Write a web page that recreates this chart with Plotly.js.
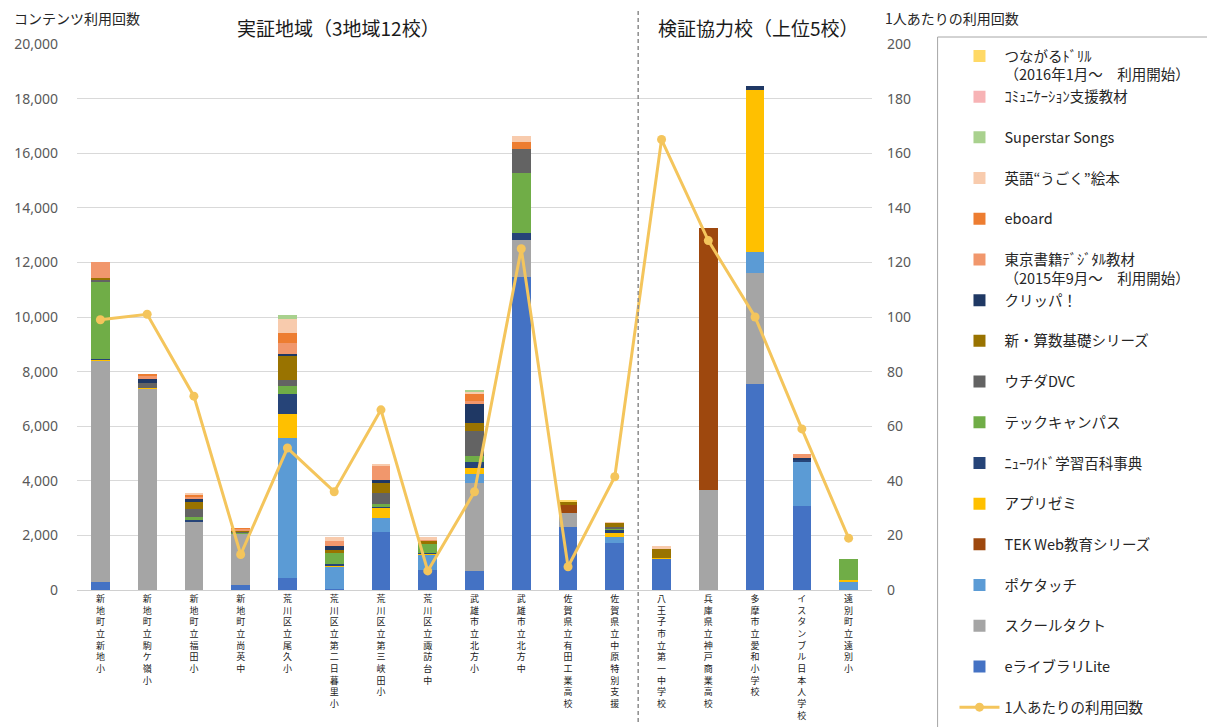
<!DOCTYPE html>
<html>
<head>
<meta charset="utf-8">
<script src="https://cdn.plot.ly/plotly-3.0.1.min.js"></script>
<style>
  html, body { margin: 0; padding: 0; background: #ffffff; }
  #chart { width: 1207px; height: 727px; }
</style>
</head>
<body>
<div id="chart"></div>
<script>
// ---------- categories ----------
const schools = ['新地町立新地小','新地町立駒ケ嶺小','新地町立福田小','新地町立尚英中','荒川区立尾久小','荒川区立第二日暮里小','荒川区立第三峡田小','荒川区立諏訪台中','武雄市立北方小','武雄市立北方中','佐賀県立有田工業高校','佐賀県立中原特別支援','八王子市立第一中学校','兵庫県立神戸商業高校','多摩市立愛和小学校','イスタンブル日本人学校','遠別町立遠別小'];

// ---------- series values (contents usage counts), bottom to top of stack ----------
const eLibraryLite   = [300, 0, 0, 190, 430, 30, 2140, 730, 710, 11480, 2320, 1710, 1120, 0, 7550, 3080, 0];
const schoolTakt     = [8100, 7370, 2500, 1860, 0, 0, 0, 0, 3220, 1340, 490, 0, 0, 3660, 4050, 0, 0];
const pokeTouch      = [0, 0, 0, 0, 5130, 800, 490, 550, 310, 0, 0, 240, 0, 0, 790, 1620, 300];
const tekWeb         = [0, 0, 0, 0, 0, 0, 0, 0, 0, 0, 310, 0, 0, 9590, 0, 0, 0];
const appliZemi      = [30, 30, 0, 0, 890, 60, 360, 40, 220, 0, 0, 120, 60, 0, 5920, 0, 50];
const newWide        = [50, 0, 70, 0, 730, 70, 40, 40, 240, 240, 0, 120, 0, 0, 0, 60, 0];
const techCampus     = [2800, 0, 90, 40, 300, 400, 120, 340, 210, 2200, 0, 60, 0, 0, 0, 0, 770];
const uchidaDVC      = [80, 170, 290, 30, 220, 0, 390, 0, 930, 910, 0, 60, 0, 0, 0, 0, 0];
const sansuKiso      = [80, 0, 260, 40, 880, 100, 390, 90, 270, 0, 110, 130, 340, 0, 0, 0, 0];
const clippa         = [0, 160, 110, 0, 50, 160, 100, 0, 710, 0, 0, 0, 0, 0, 150, 60, 0];
const tokyoShoseki   = [560, 120, 100, 80, 420, 170, 510, 60, 120, 0, 0, 0, 0, 0, 0, 160, 0];
const eboard         = [30, 60, 60, 40, 370, 0, 0, 0, 250, 240, 0, 0, 0, 0, 0, 0, 0];
const eigoEhon       = [0, 0, 60, 0, 490, 150, 70, 100, 80, 210, 0, 60, 80, 0, 0, 0, 0];
const superstarSongs = [0, 0, 0, 0, 180, 0, 0, 0, 60, 0, 0, 0, 0, 0, 0, 0, 0];
const commSupport    = [0, 0, 0, 0, 0, 0, 0, 0, 0, 0, 0, 0, 0, 0, 0, 0, 0];
const tsunagaruDrill = [0, 0, 0, 0, 0, 0, 0, 0, 0, 0, 70, 0, 0, 0, 0, 0, 0];

// ---------- per-person usage (right axis) ----------
const perPerson = [99, 101, 71, 13, 52, 36, 66, 7, 36, 125, 8.5, 41.5, 165, 128, 100, 59, 19];

// ---------- tick labels ----------
const leftTicks = [0, 2000, 4000, 6000, 8000, 10000, 12000, 14000, 16000, 18000, 20000];
const rightTicks = [0, 20, 40, 60, 80, 100, 120, 140, 160, 180, 200];
const verticalLabels = schools.map(s => Array.from(s).join('<br>'));

const seriesDefs = [
  {name: 'eライブラリLite', data: eLibraryLite, color: '#4472C4'},
  {name: 'スクールタクト', data: schoolTakt, color: '#A5A5A5'},
  {name: 'ポケタッチ', data: pokeTouch, color: '#5B9BD5'},
  {name: 'TEK Web教育シリーズ', data: tekWeb, color: '#9E480E'},
  {name: 'アプリゼミ', data: appliZemi, color: '#FFC000'},
  {name: 'ﾆｭｰﾜｲﾄﾞ学習百科事典', data: newWide, color: '#264478'},
  {name: 'テックキャンパス', data: techCampus, color: '#70AD47'},
  {name: 'ウチダDVC', data: uchidaDVC, color: '#636363'},
  {name: '新・算数基礎シリーズ', data: sansuKiso, color: '#997300'},
  {name: 'クリッパ！', data: clippa, color: '#1F3864'},
  {name: '東京書籍ﾃﾞｼﾞﾀﾙ教材<br>（2015年9月～　利用開始）', data: tokyoShoseki, color: '#F1976C', two: true},
  {name: 'eboard', data: eboard, color: '#ED7D31'},
  {name: '英語“うごく”絵本', data: eigoEhon, color: '#F8CBAD'},
  {name: 'Superstar Songs', data: superstarSongs, color: '#A9D18E'},
  {name: 'ｺﾐｭﾆｹｰｼｮﾝ支援教材', data: commSupport, color: '#F7B3B5'},
  {name: 'つながるﾄﾞﾘﾙ<br>（2016年1月～　利用開始）', data: tsunagaruDrill, color: '#FFD966', two: true}
];

const lineColor = '#F4C55C';
const traces = [{
  type: 'scatter', mode: 'lines+markers', name: '1人あたりの利用回数',
  x: schools, y: perPerson, yaxis: 'y2',
  line: {color: lineColor, width: 3},
  marker: {color: lineColor, size: 9}
}];
seriesDefs.forEach(s => {
  traces.push({
    type: 'bar', name: s.two ? s.name : s.name + '<br>&nbsp;',
    x: schools, y: s.data,
    marker: {color: s.color, line: {width: 0}},
    hoverinfo: 'x+y+name'
  });
});

const L = 77, R = 877, T = 44, B = 590;
const px = v => (v - L) / (R - L);
const py = v => (B - v) / (B - T);
const font = 'Noto Sans CJK JP, Noto Sans, sans-serif';

const layout = {
  width: 1207, height: 727,
  margin: {l: L, r: 1207 - R, t: T, b: 727 - B, pad: 0},
  paper_bgcolor: '#ffffff', plot_bgcolor: '#ffffff',
  barmode: 'stack', bargap: 0.6,
  showlegend: true,
  font: {family: font, color: '#404040'},
  xaxis: {
    type: 'category', categoryorder: 'array', categoryarray: schools,
    range: [-0.5, 16.5],
    tickmode: 'array', tickvals: schools, ticktext: verticalLabels,
    tickangle: 0, ticks: '', ticklabelstandoff: 0,
    tickfont: {family: font, size: 9, color: '#1a1a1a'},
    showline: true, linecolor: '#d0d0d0', linewidth: 1,
    showgrid: false, zeroline: false, automargin: false, fixedrange: true
  },
  yaxis: {
    range: [0, 20000], tickmode: 'array', tickvals: leftTicks,
    ticktext: leftTicks.map(v => v.toLocaleString('en-US')),
    tickfont: {family: 'Noto Sans, sans-serif', size: 14, color: '#595959'},
    gridcolor: '#d9d9d9', gridwidth: 1, zeroline: false,
    ticks: '', ticklabelstandoff: 18, automargin: false, fixedrange: true
  },
  yaxis2: {
    overlaying: 'y', side: 'right', range: [0, 200],
    tickmode: 'array', tickvals: rightTicks, ticktext: rightTicks.map(String),
    tickfont: {family: 'Noto Sans, sans-serif', size: 14, color: '#595959'},
    showgrid: false, zeroline: false, ticks: '', ticklabelstandoff: 14,
    automargin: false, fixedrange: true
  },
  legend: {
    x: px(960), xanchor: 'left', y: py(40), yanchor: 'top',
    traceorder: 'reversed', valign: 'top',
    bgcolor: 'rgba(0,0,0,0)', borderwidth: 0,
    font: {family: font, size: 14.5, color: '#262626'},
    itemwidth: 40, maxheight: 700
  },
  shapes: [
    {type: 'line', xref: 'x', yref: 'paper', x0: 11.5, x1: 11.5, y0: py(722), y1: py(10),
     line: {color: '#8c8c8c', width: 1.5, dash: '4px,3px'}},
    {type: 'rect', xref: 'paper', yref: 'paper', x0: px(943), x1: px(1220), y0: py(740), y1: py(37),
     line: {color: '#a6a6a6', width: 1}, fillcolor: 'rgba(0,0,0,0)', layer: 'below'}
  ],
  annotations: [
    {text: 'コンテンツ利用回数', xref: 'paper', yref: 'paper', x: px(12), y: py(18), xanchor: 'left', yanchor: 'middle', showarrow: false, font: {family: font, size: 14, color: '#262626'}},
    {text: '1人あたりの利用回数', xref: 'paper', yref: 'paper', x: px(888), y: py(18), xanchor: 'left', yanchor: 'middle', showarrow: false, font: {family: font, size: 14, color: '#262626'}},
    {text: '実証地域（3地域12校）', xref: 'paper', yref: 'paper', x: px(340), y: py(27), xanchor: 'center', yanchor: 'middle', showarrow: false, font: {family: font, size: 19, color: '#1a1a1a'}},
    {text: '検証協力校（上位5校）', xref: 'paper', yref: 'paper', x: px(763), y: py(27), xanchor: 'center', yanchor: 'middle', showarrow: false, font: {family: font, size: 19, color: '#1a1a1a'}}
  ]
};

Plotly.newPlot('chart', traces, layout, {displayModeBar: false, staticPlot: true});
</script>
</body>
</html>
